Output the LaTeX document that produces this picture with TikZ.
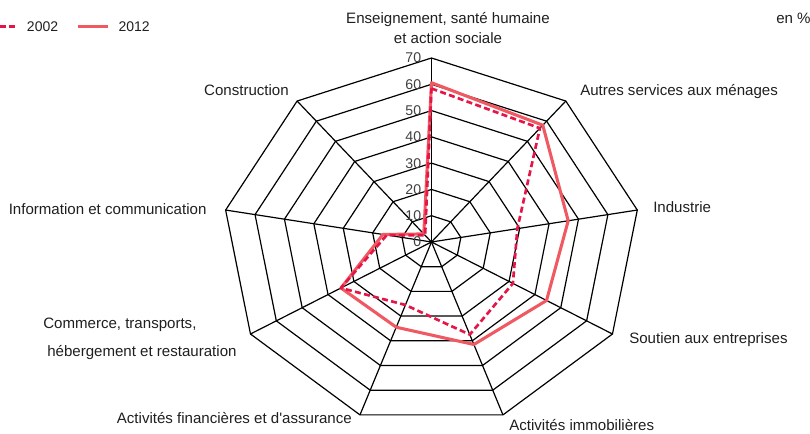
\documentclass[tikz,border=0pt]{standalone}
\usepackage{fontspec}
\setmainfont{Liberation Sans}[Ligatures=TeXOff]

\definecolor{rougeA}{RGB}{228,22,72}
\definecolor{rougeB}{RGB}{240,88,98}

\tikzset{
  gridline/.style={line width=0.9pt, black},
  lab/.style={inner sep=0pt, text=black!88, font=\fontsize{11.3}{15}\selectfont},
  val/.style={inner sep=0pt, text=black!75, font=\fontsize{10.6}{12}\selectfont},
  serie2002/.style={rougeA, line width=2pt, dash pattern=on 4.5pt off 2.5pt, line join=round},
  serie2012/.style={rougeB, line width=2.3pt, line join=round},
}

\begin{document}
\begin{tikzpicture}[x=0.75pt,y=0.75pt]
  \useasboundingbox (0,0) rectangle (810,434);

  \begin{scope}[shift={(323.6pt,144pt)}, x=2.2393pt, y=1.9714pt]
    \foreach \r in {10,20,...,70}
      \draw[gridline] (90:\r) -- (50:\r) -- (10:\r) -- (-30:\r) -- (-70:\r)
        -- (-110:\r) -- (-150:\r) -- (170:\r) -- (130:\r) -- cycle;
    \foreach \a in {90,50,10,-30,-70,-110,-150,170,130}
      \draw[gridline] (0,0) -- (\a:70);

    \draw[serie2012] (90:60.6) -- (50:58) -- (10:46.5) -- (-30:44.5) -- (-70:41.5)
      -- (-110:34.5) -- (-150:35) -- (170:16.5) -- (130:4) -- cycle;
    \draw[serie2002] (90:58.4) -- (50:56.5) -- (10:29.2) -- (-30:31.5) -- (-70:37.5)
      -- (-110:25.5) -- (-150:35) -- (170:15.2) -- (130:3.3) -- cycle;

    \foreach \v in {0,10,...,70}
      \node[val, anchor=east, xshift=-7.5pt] (val\v) at (90:\v) {\v};
  \end{scope}

  \node[lab, align=center] (enseignement) at (448,406) {Enseignement, santé humaine\\et action sociale};
  \node[lab, anchor=west] (autres) at (580,342) {Autres services aux ménages};
  \node[lab, anchor=west] (industrie) at (653,227.3) {Industrie};
  \node[lab, anchor=west] (soutien) at (629,94) {Soutien aux entreprises};
  \node[lab, anchor=west] (immobilier) at (509,9) {Activités immobilières};
  \node[lab, anchor=east] (finance) at (352,16) {Activités financières et d'assurance};
  \node[lab, anchor=west, align=left] (commerce) at (43,95) {Commerce, transports,\\[6pt]\hspace{3pt}hébergement et restauration};
  \node[lab, anchor=east] (information) at (206.7,224.7) {Information et communication};
  \node[lab, anchor=east] (construction) at (289,344) {Construction};
  \node[lab, anchor=west] (unite) at (776,416) {en \%};

  \coordinate (l2002a) at (0,407.3);
  \coordinate (l2002b) at (16.7,407.3);
  \coordinate (l2012a) at (78.3,407.3);
  \coordinate (l2012b) at (108.3,407.3);
  \draw[serie2002] (l2002a) -- (l2002b);
  \node[lab, anchor=west, font=\fontsize{10.5}{12}\selectfont] (leg2002) at (26.7,407.3) {2002};
  \draw[serie2012] (l2012a) -- (l2012b);
  \node[lab, anchor=west, font=\fontsize{10.5}{12}\selectfont] (leg2012) at (118.3,407.3) {2012};
\end{tikzpicture}
\end{document}
